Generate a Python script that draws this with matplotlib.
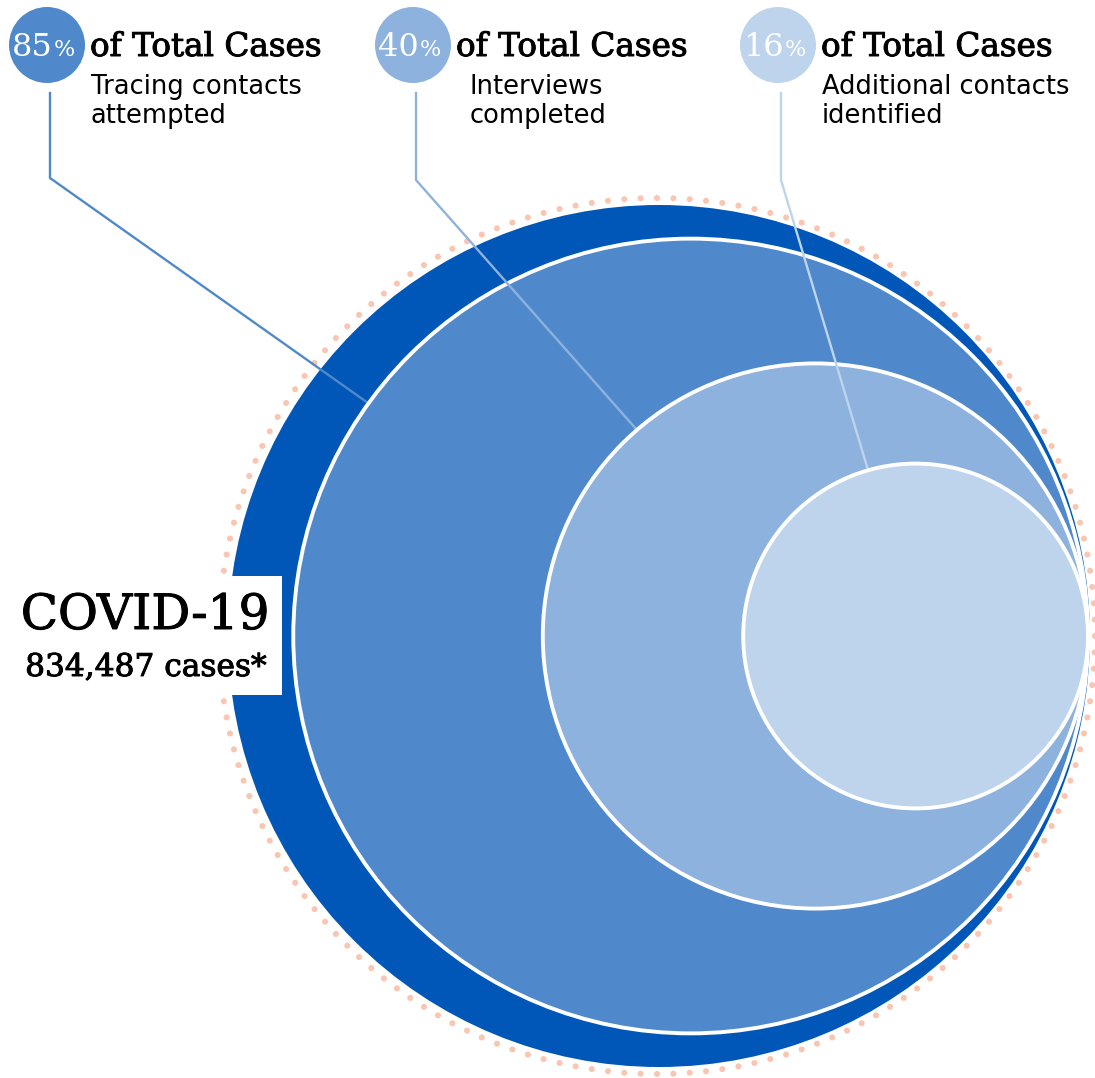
import numpy as np
import matplotlib.pyplot as plt
import matplotlib.patheffects as pe
from matplotlib.patches import Circle, Rectangle

# -----------------------------
# DATA
# -----------------------------
percents = [85, 40, 16]
pct_labels = ["85", "40", "16"]
subtitles = ["Tracing contacts\nattempted", "Interviews\ncompleted", "Additional contacts\nidentified"]
title_main = "COVID-19"
title_sub = "834,487 cases*"

# -----------------------------
# STYLE
# -----------------------------
DARK = "#0057B8"
colors = ["#4F89CB", "#8DB2DE", "#BED4EC"]
DOT = "#F9C6B2"
SERIF = "DejaVu Serif"
SANS = "DejaVu Sans"
heavy = [pe.withStroke(linewidth=0.7, foreground="black")]

W, H = 1095, 1078
fig = plt.figure(figsize=(W / 100, H / 100), dpi=100)
ax = fig.add_axes([0, 0, 1, 1])
ax.set_xlim(0, W)
ax.set_ylim(H, 0)
ax.set_aspect("equal")
ax.axis("off")

# big circle geometry (pixel space), inner circles tangent on the right
R0 = 431
right_x = 1090
cy = 636

# dotted halo
t = np.linspace(0, 2 * np.pi, 168, endpoint=False)
ax.scatter(657 + 438 * np.cos(t), cy + 438 * np.sin(t), s=19, color=DOT,
           edgecolors="none", zorder=1)

ax.add_patch(Circle((right_x - R0, cy), R0, facecolor=DARK, edgecolor="none", zorder=2))

# leader line anchors: (x of label, y of elbow, end point on circle)
label_x = [50, 416, 781]
elbow_y = [178, 180, 180]
line_end = [(368, 403), (637, 430), (868, 470)]

z = 3
for i, p in enumerate(percents):
    r = R0 * np.sqrt(p / 100)
    lx = label_x[i]
    ex, ey = line_end[i]
    ax.plot([lx, lx, ex], [93, elbow_y[i], ey], color=colors[i], lw=1.7,
            solid_joinstyle="miter", zorder=z)
    ax.add_patch(Circle((right_x - 2 - r, cy), r, facecolor=colors[i],
                        edgecolor="white", linewidth=2.8, zorder=z + 1))
    z += 2

    # label bubble
    ax.add_patch(Circle((lx - 3, 45), 38, facecolor=colors[i], edgecolor="none", zorder=20))
    ax.text(lx + 3, 56, pct_labels[i], color="white", fontsize=23, family=SERIF,
            ha="right", va="baseline", zorder=21)
    ax.text(lx + 4, 56, "%", color="white", fontsize=16, family=SERIF,
            ha="left", va="baseline", zorder=21)
    ax.text(lx + 40, 56, "of Total Cases", color="black", fontsize=23.5, family=SERIF,
            ha="left", va="baseline", zorder=21, path_effects=heavy)
    sx = lx + 41 if i != 1 else lx + 54
    ax.text(sx, 94, subtitles[i].split("\n")[0], color="black", fontsize=18.5, family=SANS,
            ha="left", va="baseline", zorder=21)
    ax.text(sx, 123, subtitles[i].split("\n")[1], color="black", fontsize=18.5, family=SANS,
            ha="left", va="baseline", zorder=21)

# COVID label box
ax.add_patch(Rectangle((8, 576), 274, 119, facecolor="white", edgecolor="none", zorder=30))
ax.text(145, 629, title_main, fontsize=35, family=SERIF, ha="center", va="baseline",
        zorder=31, path_effects=heavy)
ax.text(146, 676, title_sub, fontsize=22.5, family=SERIF, ha="center", va="baseline",
        zorder=31, path_effects=heavy)

fig.savefig("out.png", dpi=100, facecolor="white")
